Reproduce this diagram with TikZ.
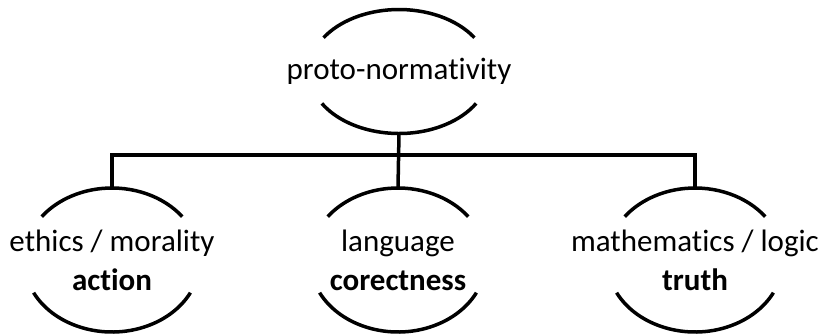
\documentclass[tikz,border=0pt]{standalone}
\usepackage{fontspec}
\setmainfont{Carlito}[Ligatures=NoCommon]
\usetikzlibrary{shapes.geometric}

\tikzset{
  x=1pt, y=1pt,
  line/.style={line width=3.5pt, black},
  topnode/.style={ellipse, draw=none, minimum width=180pt, minimum height=124pt,
    inner sep=0pt, align=center, font=\fontsize{31}{39}\selectfont},
  subnode/.style={ellipse, draw=none, minimum width=176pt, minimum height=144pt,
    inner sep=0pt, align=center, font=\fontsize{31}{39}\selectfont},
}

% the two arcs that frame a label: top from a1 to 180-a1, bottom from 180+a2 to 360-a2
\newcommand{\capsarcs}[5]{%
  \draw[line] (#1.center) ++(#4:#2 and #3)
    arc[start angle=#4, end angle=180-#4, x radius=#2, y radius=#3];
  \draw[line] (#1.center) ++(180+#5:#2 and #3)
    arc[start angle=180+#5, end angle=360-#5, x radius=#2, y radius=#3];
}

\begin{document}
\begin{tikzpicture}
  \useasboundingbox (0,0) rectangle (825,333);

  \node[topnode] (proto) at (399,261.5) {proto-normativity};
  \node[subnode] (ethics) at (112,73) {ethics / morality\\\textbf{action}};
  \node[subnode] (lang)   at (398,73) {language\\\textbf{corectness}};
  \node[subnode] (math)   at (695,73) {mathematics / logic\\\textbf{truth}};

  \capsarcs{proto}{90}{62}{33}{31}
  \capsarcs{ethics}{88}{72}{37}{27}
  \capsarcs{lang}{88}{72}{37}{27}
  \capsarcs{math}{88}{72}{37}{27}

  % tree connectors
  \coordinate (bar) at (0,178);
  \draw[line] (proto.south) -- (lang.north);
  \draw[line] (ethics.north) -- (ethics.north |- bar) -- (math.north |- bar) -- (math.north);
\end{tikzpicture}
\end{document}
